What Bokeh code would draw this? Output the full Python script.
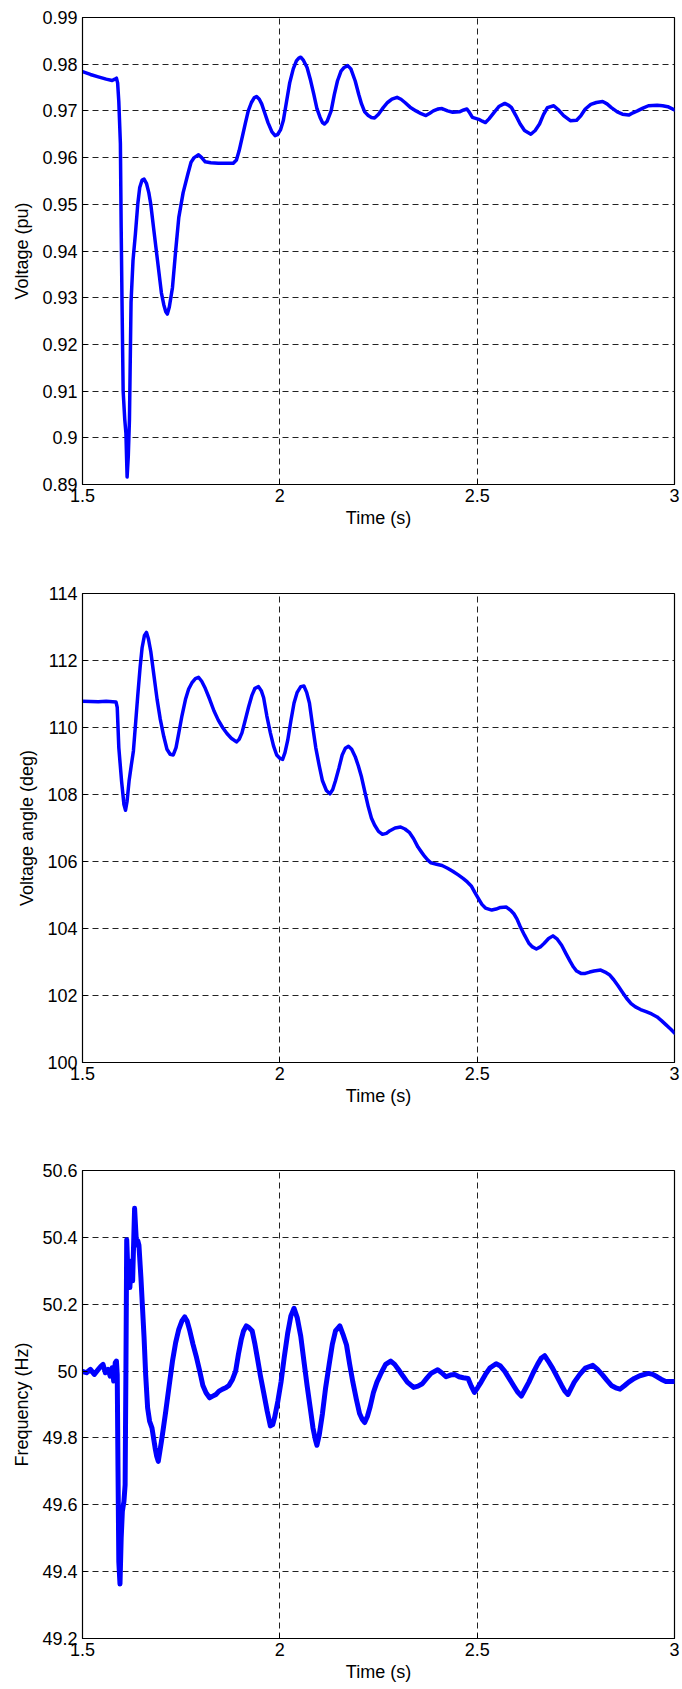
from bokeh.plotting import figure
from bokeh.layouts import column
from bokeh.models import FixedTicker, Range1d
from bokeh.embed import file_html
from bokeh.resources import INLINE

# ---- Bus voltage magnitude (pu) ----
v_time = [1.500, 1.520, 1.540, 1.560, 1.575, 1.582, 1.586, 1.589, 1.592, 1.596, 1.598, 1.600,
          1.603, 1.607, 1.610, 1.613, 1.616, 1.619, 1.623, 1.628, 1.634, 1.640, 1.645, 1.651,
          1.656, 1.662, 1.668, 1.673, 1.680, 1.690, 1.700, 1.706, 1.711, 1.715, 1.720, 1.728,
          1.736, 1.744, 1.755, 1.767, 1.775, 1.783, 1.794, 1.802, 1.811, 1.825, 1.844, 1.865,
          1.882, 1.890, 1.897, 1.905, 1.913, 1.920, 1.928, 1.935, 1.941, 1.948, 1.954, 1.962,
          1.970, 1.980, 1.988, 1.994, 2.002, 2.009, 2.017, 2.025, 2.034, 2.042, 2.048, 2.053,
          2.060, 2.069, 2.078, 2.086, 2.094, 2.102, 2.108, 2.113, 2.120, 2.130, 2.138, 2.146,
          2.155, 2.163, 2.172, 2.180, 2.191, 2.200, 2.207, 2.215, 2.224, 2.232, 2.240, 2.250,
          2.262, 2.273, 2.284, 2.297, 2.307, 2.317, 2.330, 2.345, 2.358, 2.370, 2.380, 2.389,
          2.400, 2.411, 2.425, 2.438, 2.455, 2.466, 2.474, 2.481, 2.488, 2.504, 2.513, 2.521,
          2.530, 2.543, 2.556, 2.570, 2.580, 2.587, 2.598, 2.609, 2.620, 2.636, 2.647, 2.658,
          2.668, 2.678, 2.694, 2.705, 2.719, 2.736, 2.752, 2.763, 2.774, 2.788, 2.802, 2.818,
          2.829, 2.840, 2.855, 2.868, 2.884, 2.895, 2.906, 2.920, 2.934, 2.956, 2.970, 2.983,
          3.000]
voltage = [0.9784, 0.9778, 0.9773, 0.9768, 0.9765, 0.9768, 0.9770, 0.9760, 0.9720, 0.9630, 0.9450, 0.9300,
           0.9100, 0.9040, 0.9010, 0.8916, 0.8960, 0.9040, 0.9290, 0.9380, 0.9436, 0.9500, 0.9536, 0.9552,
           0.9554, 0.9545, 0.9525, 0.9500, 0.9450, 0.9380, 0.9310, 0.9285, 0.9270, 0.9265, 0.9280, 0.9322,
           0.9400, 0.9472, 0.9525, 0.9565, 0.9590, 0.9600, 0.9606, 0.9600, 0.9591, 0.9589, 0.9588, 0.9588,
           0.9588, 0.9595, 0.9615, 0.9645, 0.9675, 0.9700, 0.9718, 0.9728, 0.9731, 0.9725, 0.9715, 0.9695,
           0.9675, 0.9655, 0.9647, 0.9649, 0.9660, 0.9680, 0.9720, 0.9760, 0.9790, 0.9807, 0.9813, 0.9815,
           0.9808, 0.9793, 0.9765, 0.9736, 0.9705, 0.9686, 0.9675, 0.9672, 0.9678, 0.9700, 0.9735, 0.9764,
           0.9785, 0.9793, 0.9797, 0.9790, 0.9764, 0.9735, 0.9715, 0.9698, 0.9690, 0.9686, 0.9685, 0.9693,
           0.9707, 0.9718, 0.9725, 0.9729, 0.9725, 0.9718, 0.9708, 0.9700, 0.9694, 0.9690, 0.9695, 0.9700,
           0.9704, 0.9705, 0.9700, 0.9697, 0.9698, 0.9702, 0.9704, 0.9696, 0.9686, 0.9682, 0.9678, 0.9675,
           0.9683, 0.9697, 0.9710, 0.9716, 0.9712, 0.9707, 0.9690, 0.9672, 0.9658, 0.9650, 0.9658, 0.9672,
           0.9692, 0.9707, 0.9711, 0.9703, 0.9690, 0.9679, 0.9680, 0.9690, 0.9704, 0.9714, 0.9718, 0.9720,
           0.9715, 0.9707, 0.9698, 0.9693, 0.9691, 0.9696, 0.9700, 0.9706, 0.9711, 0.9712, 0.9711, 0.9709,
           0.9702]

# ---- Bus voltage angle (deg) ----
a_time = [1.500, 1.540, 1.560, 1.585, 1.588, 1.592, 1.599, 1.605, 1.609, 1.613, 1.618, 1.624,
          1.629, 1.635, 1.640, 1.646, 1.651, 1.657, 1.662, 1.667, 1.673, 1.681, 1.689, 1.697,
          1.706, 1.714, 1.722, 1.730, 1.737, 1.744, 1.752, 1.761, 1.769, 1.777, 1.786, 1.794,
          1.802, 1.811, 1.822, 1.833, 1.844, 1.855, 1.866, 1.877, 1.890, 1.897, 1.904, 1.912,
          1.921, 1.929, 1.937, 1.946, 1.953, 1.959, 1.967, 1.976, 1.984, 1.992, 2.000, 2.007,
          2.013, 2.020, 2.028, 2.036, 2.044, 2.053, 2.061, 2.068, 2.075, 2.083, 2.091, 2.100,
          2.108, 2.118, 2.127, 2.134, 2.141, 2.150, 2.158, 2.166, 2.174, 2.182, 2.191, 2.199,
          2.207, 2.216, 2.224, 2.232, 2.240, 2.250, 2.260, 2.270, 2.279, 2.292, 2.306, 2.317,
          2.328, 2.339, 2.350, 2.359, 2.367, 2.375, 2.383, 2.397, 2.411, 2.425, 2.438, 2.452,
          2.465, 2.475, 2.485, 2.494, 2.504, 2.512, 2.521, 2.537, 2.548, 2.559, 2.574, 2.584,
          2.593, 2.601, 2.609, 2.620, 2.631, 2.640, 2.650, 2.660, 2.670, 2.681, 2.692, 2.703,
          2.714, 2.725, 2.736, 2.744, 2.752, 2.763, 2.774, 2.785, 2.796, 2.813, 2.824, 2.835,
          2.846, 2.857, 2.868, 2.879, 2.890, 2.901, 2.914, 2.928, 2.942, 2.956, 2.967, 2.978,
          2.990, 3.000]
angle = [110.78, 110.77, 110.78, 110.76, 110.60, 109.40, 108.40, 107.70, 107.53, 107.80, 108.40, 108.90,
         109.30, 110.20, 110.95, 111.80, 112.38, 112.75, 112.84, 112.65, 112.27, 111.55, 110.84, 110.25,
         109.73, 109.35, 109.20, 109.18, 109.40, 109.84, 110.35, 110.84, 111.15, 111.33, 111.46, 111.50,
         111.38, 111.17, 110.85, 110.50, 110.22, 110.00, 109.82, 109.68, 109.57, 109.65, 109.84, 110.20,
         110.62, 110.95, 111.17, 111.22, 111.10, 110.89, 110.35, 109.84, 109.45, 109.18, 109.08, 109.05,
         109.25, 109.62, 110.20, 110.73, 111.05, 111.22, 111.24, 111.05, 110.73, 110.05, 109.40, 108.85,
         108.41, 108.12, 108.02, 108.15, 108.41, 108.80, 109.18, 109.38, 109.44, 109.35, 109.13, 108.85,
         108.52, 108.05, 107.64, 107.30, 107.09, 106.90, 106.81, 106.84, 106.92, 107.00, 107.03, 106.97,
         106.87, 106.68, 106.43, 106.28, 106.15, 106.04, 105.96, 105.92, 105.88, 105.80, 105.71, 105.60,
         105.49, 105.39, 105.27, 105.08, 104.88, 104.72, 104.61, 104.55, 104.58, 104.63, 104.64, 104.55,
         104.44, 104.28, 104.06, 103.80, 103.56, 103.45, 103.39, 103.45, 103.56, 103.70, 103.78, 103.68,
         103.50, 103.25, 103.01, 102.85, 102.73, 102.66, 102.66, 102.70, 102.73, 102.76, 102.70, 102.62,
         102.47, 102.29, 102.10, 101.91, 101.76, 101.66, 101.58, 101.52, 101.45, 101.36, 101.25, 101.13,
         101.00, 100.88]

# ---- Bus frequency (Hz) ----
f_time = [1.500, 1.510, 1.520, 1.530, 1.540, 1.547, 1.552, 1.558, 1.565, 1.570, 1.575, 1.579,
          1.583, 1.586, 1.588, 1.590, 1.592, 1.595, 1.598, 1.601, 1.605, 1.608, 1.610, 1.612,
          1.614, 1.616, 1.618, 1.620, 1.623, 1.625, 1.627, 1.630, 1.632, 1.635, 1.637, 1.640,
          1.643, 1.648, 1.652, 1.656, 1.660, 1.665, 1.670, 1.676, 1.680, 1.684, 1.688, 1.692,
          1.696, 1.700, 1.705, 1.711, 1.720, 1.728, 1.736, 1.744, 1.752, 1.759, 1.765, 1.772,
          1.780, 1.789, 1.797, 1.805, 1.813, 1.822, 1.830, 1.838, 1.846, 1.855, 1.863, 1.871,
          1.880, 1.888, 1.895, 1.902, 1.908, 1.915, 1.922, 1.930, 1.937, 1.943, 1.951, 1.959,
          1.968, 1.976, 1.982, 1.987, 1.995, 2.003, 2.011, 2.020, 2.028, 2.036, 2.044, 2.053,
          2.061, 2.069, 2.077, 2.084, 2.090, 2.094, 2.100, 2.108, 2.116, 2.125, 2.133, 2.141,
          2.152, 2.160, 2.169, 2.177, 2.185, 2.194, 2.202, 2.209, 2.215, 2.222, 2.229, 2.237,
          2.246, 2.257, 2.268, 2.281, 2.291, 2.301, 2.312, 2.323, 2.339, 2.350, 2.361, 2.372,
          2.383, 2.400, 2.410, 2.421, 2.432, 2.443, 2.454, 2.465, 2.477, 2.485, 2.493, 2.501,
          2.510, 2.521, 2.532, 2.548, 2.559, 2.570, 2.581, 2.592, 2.602, 2.612, 2.621, 2.631,
          2.642, 2.653, 2.662, 2.671, 2.680, 2.691, 2.703, 2.714, 2.722, 2.730, 2.738, 2.746,
          2.760, 2.774, 2.793, 2.805, 2.818, 2.829, 2.840, 2.851, 2.862, 2.873, 2.884, 2.898,
          2.912, 2.934, 2.945, 2.956, 2.967, 2.978, 3.000]
frequency = [49.999, 49.995, 50.005, 49.990, 50.005, 50.015, 50.020, 49.995, 50.005, 49.985, 50.010, 49.970,
             50.025, 50.030, 49.990, 49.700, 49.430, 49.363, 49.500, 49.580, 49.610, 49.660, 50.000, 50.393,
             50.330, 50.270, 50.250, 50.250, 50.320, 50.330, 50.270, 50.400, 50.487, 50.420, 50.377, 50.390,
             50.377, 50.280, 50.190, 50.100, 49.990, 49.890, 49.850, 49.830, 49.800, 49.770, 49.745, 49.730,
             49.760, 49.790, 49.830, 49.880, 49.960, 50.030, 50.085, 50.125, 50.150, 50.162, 50.150, 50.120,
             50.080, 50.040, 50.000, 49.957, 49.935, 49.920, 49.925, 49.930, 49.940, 49.946, 49.950, 49.957,
             49.975, 50.000, 50.050, 50.093, 50.120, 50.135, 50.130, 50.120, 50.080, 50.040, 49.985, 49.936,
             49.880, 49.836, 49.840, 49.862, 49.910, 49.967, 50.040, 50.114, 50.165, 50.188, 50.160, 50.104,
             50.030, 49.957, 49.890, 49.830, 49.795, 49.778, 49.810, 49.873, 49.950, 50.020, 50.080, 50.120,
             50.135, 50.110, 50.078, 50.020, 49.967, 49.915, 49.873, 49.855, 49.846, 49.865, 49.894, 49.935,
             49.967, 49.995, 50.020, 50.030, 50.020, 50.004, 49.985, 49.967, 49.951, 49.955, 49.962, 49.978,
             49.993, 50.004, 49.995, 49.983, 49.988, 49.990, 49.983, 49.980, 49.978, 49.955, 49.936, 49.950,
             49.967, 49.990, 50.009, 50.022, 50.015, 49.999, 49.978, 49.957, 49.938, 49.925, 49.945, 49.967,
             49.995, 50.020, 50.038, 50.046, 50.030, 50.009, 49.982, 49.957, 49.940, 49.930, 49.948, 49.967,
             49.990, 50.009, 50.017, 50.005, 49.988, 49.972, 49.957, 49.950, 49.946, 49.956, 49.967, 49.978,
             49.986, 49.993, 49.990, 49.983, 49.975, 49.969, 49.969]

# ---- Axis ticks and their labels ----
time_ticks = [1.5, 2.0, 2.5, 3.0]
time_tick_labels = ["1.5", "2", "2.5", "3"]
v_ticks = [0.89, 0.90, 0.91, 0.92, 0.93, 0.94, 0.95, 0.96, 0.97, 0.98, 0.99]
v_tick_labels = ["0.89", "0.9", "0.91", "0.92", "0.93", "0.94", "0.95", "0.96", "0.97", "0.98", "0.99"]
a_ticks = [100, 102, 104, 106, 108, 110, 112, 114]
a_tick_labels = ["100", "102", "104", "106", "108", "110", "112", "114"]
f_ticks = [49.2, 49.4, 49.6, 49.8, 50.0, 50.2, 50.4, 50.6]
f_tick_labels = ["49.2", "49.4", "49.6", "49.8", "50", "50.2", "50.4", "50.6"]

FONT = "Liberation Sans"
BLUE = "#0000FF"


def make_panel(x, y, yticks, ylabels, yrange, ylabel, border_top, frame_h, border_bottom, lw):
    p = figure(width=682, height=border_top + frame_h + border_bottom,
               x_range=Range1d(1.5, 3.0), y_range=Range1d(*yrange),
               output_backend="svg", toolbar_location=None,
               min_border_left=82, min_border_right=8,
               min_border_top=border_top, min_border_bottom=border_bottom)
    p.background_fill_color = "white"
    p.border_fill_color = "white"
    p.outline_line_color = "black"
    p.outline_line_width = 1.2

    p.xaxis.ticker = FixedTicker(ticks=time_ticks)
    p.xaxis.major_label_overrides = dict(zip(time_ticks, time_tick_labels))
    p.yaxis.ticker = FixedTicker(ticks=yticks)
    p.yaxis.major_label_overrides = dict(zip(yticks, ylabels))
    p.xgrid.ticker = FixedTicker(ticks=time_ticks[1:-1])
    p.ygrid.ticker = FixedTicker(ticks=yticks[1:-1])

    for ax in (p.xaxis[0], p.yaxis[0]):
        ax.axis_line_color = "black"
        ax.axis_line_width = 1
        ax.major_tick_in = 5
        ax.major_tick_out = 0
        ax.minor_tick_line_color = None
        ax.major_tick_line_color = "black"
        ax.major_label_text_font = FONT
        ax.major_label_text_font_size = "18px"
        ax.major_label_text_color = "black"
        ax.axis_label_text_font = FONT
        ax.axis_label_text_font_size = "18px"
        ax.axis_label_text_font_style = "normal"
        ax.axis_label_text_color = "black"

    p.xaxis.major_label_standoff = 4
    p.xaxis.axis_label = "Time (s)"
    p.xaxis.axis_label_standoff = 3
    p.yaxis.major_label_standoff = 5
    p.yaxis.axis_label = ylabel
    p.yaxis.axis_label_standoff = 7

    for g in (p.xgrid[0], p.ygrid[0]):
        g.grid_line_color = "#222222"
        g.grid_line_width = 1
        g.grid_line_dash = "6 4"
        g.grid_line_alpha = 1.0

    p.line(x, y, line_color=BLUE, line_width=lw, line_join="round", line_cap="round")
    return p


p1 = make_panel(v_time, voltage, v_ticks, v_tick_labels, (0.89, 0.99),
                "Voltage (pu)", 17, 467, 60, 3.5)
p2 = make_panel(a_time, angle, a_ticks, a_tick_labels, (100, 114),
                "Voltage angle (deg)", 49, 469, 60, 3.5)
p3 = make_panel(f_time, frequency, f_ticks, f_tick_labels, (49.2, 50.6),
                "Frequency (Hz)", 48, 468, 51, 5.0)

layout = column(p1, p2, p3, spacing=0)
open("out.html", "w").write(file_html(layout, INLINE))
